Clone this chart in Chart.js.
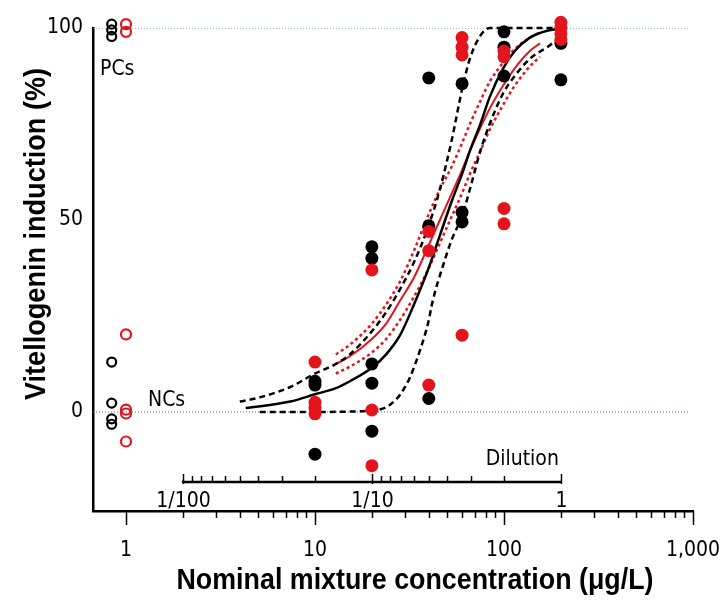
<!DOCTYPE html>
<html>
<head>
<meta charset="utf-8">
<script src="https://cdn.jsdelivr.net/npm/chart.js@4.4.1/dist/chart.umd.min.js"></script>
<style>
  html, body { margin: 0; padding: 0; background: #fff; }
</style>
</head>
<body>
<canvas id="vtgChart" width="722" height="611"></canvas>
<script>
// observed responses (% vitellogenin induction) per nominal concentration (ug/L)
const concentrations = [10, 20, 40, 60, 100, 200];
const blackResponses = [[8, 7, -11], [43, 40, 12.5, 7.5, -5], [87, 48.5, 3.5], [85.5, 52, 49.5], [99, 95, 87.5], [96, 86.5]];
const redResponses = [[13, 2.5, 1, -0.5], [37, 0.5, -14], [47, 42, 7], [97.5, 95, 93, 20], [94, 92.5, 53, 49], [101.5, 100, 98.5, 97]];

// controls, plotted left of the concentration range
const blackControlConc = 0.84;
const redControlConc = 1.0;
const blackPositive = [101, 99.5, 97.8];
const redPositive = [101, 99];
const blackNegative = [13, 2.3, -1.8, -3.2];
const redNegative = [20.2, 0.6, -0.4, -7.7];

// curves: [concentration, response]
const predicted = [[4.3, 1], [7.4, 2.7], [10, 4.6], [12.9, 6.2], [15.3, 8], [20, 11.5], [23.8, 15], [28.2, 20], [33.4, 28], [39.6, 37], [45.8, 46], [53, 55], [60, 62], [66, 68], [75, 75], [84, 82], [99, 89.5], [114, 94], [137, 97.5], [169, 99.3], [198, 99.8]];
const predictedUpper = [[4, 2.7], [5.1, 3.8], [7.4, 6.5], [10, 10], [12.9, 12.5], [15.3, 15], [20, 21], [23.8, 26], [28.2, 32], [33.4, 39], [39.6, 48], [45.8, 58], [53, 71], [60, 84], [66, 92], [75, 98], [84, 100], [198, 100]];
const predictedLower = [[5.1, 0], [10, 0], [15.3, 0.1], [20, 0.4], [23.8, 1.2], [26.5, 3], [28.2, 4.5], [31.8, 9], [35.9, 16], [39.6, 23], [42, 29], [47.5, 38], [53, 45], [60, 51], [66, 58], [75, 68], [84, 75], [99, 83], [114, 87.5], [137, 92], [169, 95], [198, 97.5]];
const observedFit = [[12.9, 12.5], [15.3, 14.5], [20, 19], [23.8, 23], [28.2, 29], [33.4, 35], [39.6, 43], [45.8, 50], [53, 57], [60, 63], [66, 68], [75, 74], [84, 79], [99, 85], [114, 89.5], [137, 94], [155, 96]];
const observedUpper = [[12.9, 15], [15.3, 17.5], [20, 23], [23.8, 28], [28.2, 34], [33.4, 42], [39.6, 51], [45.8, 58], [53, 64], [60, 70], [66, 75], [75, 81], [84, 86], [99, 91], [114, 94.5], [137, 97.5], [155, 98.8]];
const observedLower = [[12.9, 10], [15.3, 11.8], [20, 15.5], [23.8, 19], [28.2, 24], [33.4, 30], [39.6, 37], [45.8, 44], [53, 51], [60, 57], [66, 62], [75, 68], [84, 73.5], [99, 80], [114, 85], [137, 90], [155, 92.5]];

// dotted reference levels
const referenceLevels = [0, 100];
const referenceEnd = 950;

// axes
const xMin = 0.669;
const xMax = 1000;
const xTickValues = [1, 10, 100, 1000];
const xTickLabels = ['1', '10', '100', '1,000'];
const yMin = -25.8;
const yMax = 100;
const yTickValues = [0, 50, 100];

// dilution axis: 1 = full strength mixture
const fullStrength = 200;
const dilutionMajor = [1 / 100, 1 / 10, 1];
const dilutionLabels = ['1/100', '1/10', '1'];
const dilutionMinor = [1 / 90, 1 / 80, 1 / 70, 1 / 60, 1 / 50, 1 / 40, 1 / 30, 1 / 20, 1 / 9, 1 / 8, 1 / 7, 1 / 6, 1 / 5, 1 / 4, 1 / 3, 1 / 2];

const RED = '#e3141c';
const BLACK = '#000';
const FONT = "'DejaVu Sans Condensed', 'Liberation Sans Narrow', sans-serif";
const TITLE_FONT = "bold 29px 'Liberation Sans', Arial, sans-serif";

function toPoints(xs, groups) {
    const pts = [];
    groups.forEach((g, i) => g.forEach(v => pts.push({x: xs[i], y: v})));
    return pts;
}
function controlPoints(x, list) {
    return list.map(v => ({x: x, y: v}));
}
function curve(list) {
    return list.map(p => ({x: p[0], y: p[1]}));
}

// minor ticks of the log axis, every 1..9 of each decade
const xAllTicks = [];
for (let d = 1; d < xMax; d *= 10) {
    for (let m = 1; m < 10; m++) xAllTicks.push(m * d);
}
xAllTicks.push(xMax);

function lineSet(data, color, width, dash) {
    return {
        type: 'line',
        data: curve(data),
        borderColor: color,
        borderWidth: width,
        borderDash: dash,
        pointRadius: 0,
        fill: false,
        cubicInterpolationMode: 'monotone',
        clip: false
    };
}

// condensed bold title, squeezed to the width it has in the figure
function squeezedText(ctx, text, x, y, width, angle) {
    ctx.save();
    ctx.font = TITLE_FONT;
    ctx.fillStyle = BLACK;
    ctx.textAlign = 'center';
    ctx.textBaseline = 'middle';
    const w = ctx.measureText(text).width;
    ctx.translate(x, y);
    ctx.rotate(angle);
    ctx.scale(width / w, 1);
    ctx.fillText(text, 0, 0);
    ctx.restore();
}

const extras = {
    id: 'extras',
    afterDraw(chart) {
        const ctx = chart.ctx;
        const xs = chart.scales.x;
        const area = chart.chartArea;
        ctx.save();
        ctx.strokeStyle = BLACK;
        ctx.fillStyle = BLACK;

        // x axis tick marks
        ctx.lineWidth = 1.5;
        xAllTicks.forEach(v => {
            const px = Math.round(xs.getPixelForValue(v)) + 0.5;
            const len = xTickValues.includes(v) ? 14 : 7;
            ctx.beginPath();
            ctx.moveTo(px, area.bottom);
            ctx.lineTo(px, area.bottom + len);
            ctx.stroke();
        });

        // dilution axis
        const dy = area.bottom - 29;
        ctx.lineWidth = 2.5;
        ctx.beginPath();
        ctx.moveTo(xs.getPixelForValue(dilutionMajor[0] * fullStrength) - 1, dy);
        ctx.lineTo(xs.getPixelForValue(fullStrength) + 1, dy);
        ctx.stroke();
        ctx.lineWidth = 1.5;
        dilutionMinor.forEach(d => {
            const px = Math.round(xs.getPixelForValue(d * fullStrength)) + 0.5;
            ctx.beginPath();
            ctx.moveTo(px, dy);
            ctx.lineTo(px, dy - 6);
            ctx.stroke();
        });
        ctx.font = '21px ' + FONT;
        ctx.textAlign = 'center';
        ctx.textBaseline = 'alphabetic';
        dilutionMajor.forEach((d, i) => {
            const px = Math.round(xs.getPixelForValue(d * fullStrength)) + 0.5;
            ctx.beginPath();
            ctx.moveTo(px, dy + 2);
            ctx.lineTo(px, dy - 8);
            ctx.stroke();
            ctx.fillText(dilutionLabels[i], px, dy + 25);
        });
        ctx.textAlign = 'right';
        ctx.fillText('Dilution', xs.getPixelForValue(fullStrength) - 2, dy - 17);

        // control labels
        ctx.textAlign = 'left';
        ctx.fillText('PCs', 100, 75);
        ctx.fillText('NCs', 148, 406);
        ctx.restore();

        // axis titles
        squeezedText(ctx, 'Nominal mixture concentration (\u03bcg/L)', 415, 581, 477, 0);
        squeezedText(ctx, 'Vitellogenin induction (%)', 37, 234, 332, -Math.PI / 2);
    }
};

const ctx = document.getElementById('vtgChart').getContext('2d');
const vtgChart = new Chart(ctx, {
    type: 'scatter',
    data: {
        datasets: [
            {
                data: toPoints(concentrations, redResponses),
                backgroundColor: RED, borderColor: RED,
                pointRadius: 6.5, borderWidth: 0, clip: false
            },
            {
                data: toPoints(concentrations, blackResponses),
                backgroundColor: BLACK, borderColor: BLACK,
                pointRadius: 6.5, borderWidth: 0, clip: false
            },
            {
                data: controlPoints(redControlConc, redPositive.concat(redNegative)),
                backgroundColor: 'rgba(0,0,0,0)', borderColor: RED,
                pointRadius: 5, borderWidth: 2.2, clip: false
            },
            {
                data: controlPoints(blackControlConc, blackPositive.concat(blackNegative)),
                backgroundColor: 'rgba(0,0,0,0)', borderColor: BLACK,
                pointRadius: 4.5, borderWidth: 2.2, clip: false
            },
            lineSet(predicted, BLACK, 2.5, []),
            lineSet(predictedUpper, BLACK, 2.5, [6, 4]),
            lineSet(predictedLower, BLACK, 2.5, [6, 4]),
            lineSet(observedFit, RED, 2, []),
            lineSet(observedUpper, RED, 2.5, [3, 3]),
            lineSet(observedLower, RED, 2.5, [3, 3]),
            ...referenceLevels.map(v => ({
                type: 'line',
                data: [{x: xMin, y: v}, {x: referenceEnd, y: v}],
                borderColor: '#2f8383',
                borderWidth: 1,
                borderDash: [1, 2],
                pointRadius: 0,
                fill: false
            }))
        ]
    },
    options: {
        responsive: false,
        animation: false,
        events: [],
        layout: {
            padding: { left: 0, top: 28, right: 29, bottom: 0 }
        },
        plugins: {
            legend: { display: false },
            tooltip: { enabled: false }
        },
        scales: {
            x: {
                type: 'logarithmic',
                min: xMin,
                max: xMax,
                afterBuildTicks: s => { s.ticks = xAllTicks.map(v => ({value: v})); },
                afterFit: s => { s.height = 100; s.paddingLeft = 0; s.paddingRight = 0; },
                grid: { display: false, drawTicks: false },
                border: { display: true, color: BLACK, width: 2.5 },
                ticks: {
                    autoSkip: false,
                    maxRotation: 0,
                    padding: 27,
                    color: BLACK,
                    font: { family: FONT, size: 21 },
                    callback: v => {
                        const i = xTickValues.indexOf(v);
                        return i >= 0 ? xTickLabels[i] : '';
                    }
                }
            },
            y: {
                min: yMin,
                max: yMax,
                afterBuildTicks: s => { s.ticks = yTickValues.map(v => ({value: v})); },
                afterFit: s => { s.width = 93; s.paddingTop = 0; s.paddingBottom = 0; },
                grid: { display: false, drawTicks: false },
                border: { display: true, color: BLACK, width: 2.5 },
                ticks: {
                    padding: 10,
                    color: BLACK,
                    font: { family: FONT, size: 21 }
                }
            }
        }
    },
    plugins: [extras]
});
</script>
</body>
</html>
